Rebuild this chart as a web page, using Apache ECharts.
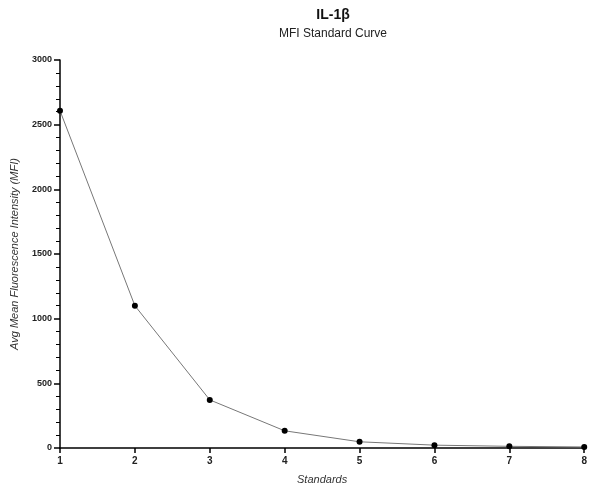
<!DOCTYPE html>
<html>
<head>
<meta charset="utf-8">
<script src="https://cdn.jsdelivr.net/npm/echarts@6/dist/echarts.min.js"></script>
<style>
html, body { margin: 0; padding: 0; background: #fff; }
#chart { width: 590px; height: 491px; }
</style>
</head>
<body>
<div id="chart"></div>
<script>
const standards = [1, 2, 3, 4, 5, 6, 7, 8];
const mfiValues = [2608, 1100, 372, 133, 48, 22, 13, 8];

const points = standards.map((s, i) => [s, mfiValues[i]]);

const myChart = echarts.init(document.getElementById("chart"));

const option = {
    animation: false,
    textStyle: {
        fontFamily: "Liberation Sans, Arial, sans-serif"
    },
    title: {
        text: "IL-1β",
        subtext: "MFI Standard Curve",
        left: 328,
        textAlign: "center",
        top: 3,
        itemGap: 6,
        textStyle: {
            fontSize: 14,
            fontWeight: "bold",
            color: "#111"
        },
        subtextStyle: {
            fontSize: 12,
            color: "#222"
        }
    },
    grid: {
        left: 60,
        right: 1,
        top: 60,
        bottom: 43,
        containLabel: false
    },
    xAxis: {
        type: "value",
        min: 1,
        max: 8,
        interval: 1,
        name: "Standards",
        nameLocation: "middle",
        nameGap: 26,
        nameTextStyle: {
            fontStyle: "italic",
            fontSize: 11,
            color: "#333"
        },
        axisLine: {
            show: true,
            onZero: false,
            lineStyle: { color: "#000", width: 1.5 }
        },
        axisTick: {
            show: true,
            length: 5,
            lineStyle: { color: "#000", width: 1.5 }
        },
        axisLabel: {
            fontSize: 10,
            fontWeight: "bold",
            color: "#222",
            margin: 8
        },
        splitLine: { show: false }
    },
    yAxis: {
        type: "value",
        min: 0,
        max: 3000,
        interval: 500,
        name: "Avg Mean Fluorescence Intensity (MFI)",
        nameLocation: "middle",
        nameGap: 40,
        nameTextStyle: {
            fontStyle: "italic",
            fontSize: 11,
            color: "#333"
        },
        axisLine: {
            show: true,
            lineStyle: { color: "#000", width: 1.5 }
        },
        axisTick: {
            show: true,
            length: 6,
            lineStyle: { color: "#000", width: 1.5 }
        },
        minorTick: {
            show: true,
            splitNumber: 5,
            length: 4,
            lineStyle: { color: "#000", width: 1 }
        },
        axisLabel: {
            fontSize: 9,
            fontWeight: "bold",
            color: "#222",
            margin: 8,
            formatter: v => String(v)
        },
        splitLine: { show: false },
        minorSplitLine: { show: false }
    },
    series: [{
        type: "line",
        data: points,
        symbol: "circle",
        symbolSize: 6,
        itemStyle: { color: "#000" },
        lineStyle: { color: "#777", width: 1 },
        clip: false
    }]
};

myChart.setOption(option);
</script>
</body>
</html>
